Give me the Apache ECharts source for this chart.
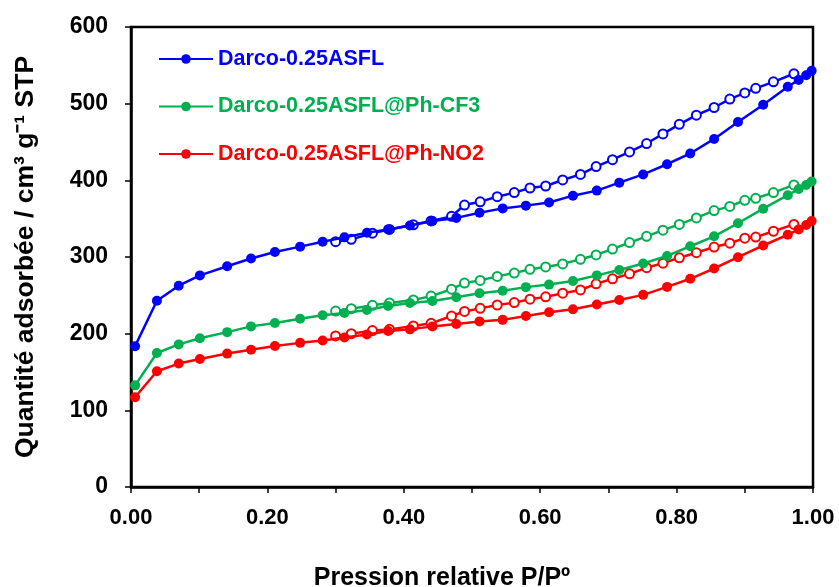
<!DOCTYPE html>
<html>
<head>
<meta charset="utf-8">
<script src="https://cdn.jsdelivr.net/npm/echarts@6/dist/echarts.min.js"></script>
<style>html,body{margin:0;padding:0;background:#fff;}#c{width:839px;height:587px;}</style>
</head>
<body>
<div id="c"></div>
<script>
const seriesNames = ['Darco-0.25ASFL', 'Darco-0.25ASFL@Ph-CF3', 'Darco-0.25ASFL@Ph-NO2'];
const colors = ['#0000ff', '#00b050', '#ff0000'];
const xTicks = [0, 0.2, 0.4, 0.6, 0.8, 1.0];
const yTicks = [0, 100, 200, 300, 400, 500, 600];

const adsX = [0.006, 0.038, 0.07, 0.101, 0.141, 0.176, 0.211, 0.248, 0.281, 0.313, 0.346, 0.377, 0.409, 0.442, 0.477, 0.511, 0.545, 0.579, 0.613, 0.648, 0.683, 0.716, 0.751, 0.786, 0.82, 0.855, 0.89, 0.927, 0.963, 0.979, 0.99, 0.998];
const desX = [0.972, 0.942, 0.916, 0.90, 0.878, 0.855, 0.829, 0.804, 0.78, 0.756, 0.731, 0.706, 0.682, 0.659, 0.633, 0.608, 0.585, 0.562, 0.537, 0.512, 0.489, 0.47, 0.44, 0.414, 0.379, 0.354, 0.323, 0.30];

const blueAds = [183.7, 243, 262.6, 276, 288, 298, 306.5, 313.5, 320, 325.6, 331.7, 336, 341, 347, 351, 357.7, 363.4, 367, 371, 380, 386.6, 397, 407.7, 421, 435, 454, 476, 498.5, 522, 531, 537, 543];
const blueDes = [539, 528.5, 520, 514, 506, 495, 485, 473, 460.5, 448, 437, 427, 418, 407.7, 400.5, 392.6, 390, 384, 378.7, 372, 367.8, 353, 347, 342, 336, 331, 323, 320];
const greenAds = [132.6, 174.8, 186, 194, 202, 209.5, 214, 219.5, 224, 227, 231, 236, 240, 242.6, 247.4, 252.7, 256, 260.7, 264, 268.7, 276, 283, 291.5, 301.4, 314, 327, 344, 363, 380.6, 388.7, 394, 398.5];
const greenDes = [394, 384, 376.6, 374, 366, 360.5, 351, 342.5, 335, 327, 318.8, 310.4, 302.7, 297, 291, 287, 284, 279, 274.7, 269.5, 266, 258, 249, 244, 240, 237, 232.6, 229.5];
const redAds = [117, 151, 161, 167, 174, 179, 184, 188, 191, 195, 199, 203.5, 205.6, 209.5, 212.6, 216, 218, 223, 228, 231.8, 238, 244, 250.6, 261, 271.6, 285, 299.7, 315, 329, 336, 341.7, 347];
const redDes = [342.5, 333.6, 326, 324.6, 318, 313, 305.6, 299, 292, 286, 278, 271.6, 265, 257, 252.8, 248, 245, 240.5, 237.4, 233, 229, 223, 213.5, 210, 205.6, 204, 200, 197];

const adsSets = [blueAds, greenAds, redAds];
const desSets = [blueDes, greenDes, redDes];

function pairs(xs, ys) { return xs.map((x, i) => [x, ys[i]]); }

const series = [];
for (let k = 0; k < 3; k++) {
  series.push({
    name: seriesNames[k], type: 'line', data: pairs(adsX, adsSets[k]),
    symbol: 'circle', symbolSize: 10, showSymbol: true,
    lineStyle: { color: colors[k], width: 2.5 },
    itemStyle: { color: colors[k], borderColor: colors[k], borderWidth: 0 },
    emphasis: { disabled: true }, animation: false, z: 3
  });
  series.push({
    name: seriesNames[k] + ' (d)', type: 'line', data: pairs(desX, desSets[k]),
    symbol: 'circle', symbolSize: 9, showSymbol: true,
    lineStyle: { color: colors[k], width: 2.5 },
    itemStyle: { color: '#fff', borderColor: colors[k], borderWidth: 2 },
    emphasis: { disabled: true }, animation: false, z: 2
  });
}

const font = 'Liberation Sans, Arial, sans-serif';
const chart = echarts.init(document.getElementById('c'), null, { renderer: 'canvas' });
chart.setOption({
  animation: false,
  backgroundColor: '#fff',
  grid: { left: 131, right: 26, top: 27, bottom: 100, show: true, borderColor: '#000', borderWidth: 2.5,
          containLabel: false, outerBoundsMode: 'none' },
  legend: {
    orient: 'vertical', left: 158, top: 48, padding: 0, itemWidth: 54, itemHeight: 12, itemGap: 25.5,
    data: seriesNames.map((n, k) => ({ name: n, textStyle: { color: colors[k] } })),
    textStyle: { fontFamily: font, fontWeight: 'bold', fontSize: 21.5 },
    selectedMode: false
  },
  xAxis: {
    type: 'value', min: 0, max: 1, interval: 0.1,
    name: 'Pression relative P/Pº', nameLocation: 'middle', nameGap: 79,
    nameTextStyle: { fontFamily: font, fontWeight: 'bold', fontSize: 25, color: '#000', padding: [0, 60, 0, 0] },
    axisLine: { show: true, onZero: false, lineStyle: { color: '#000', width: 2.5 } },
    axisTick: { show: true, inside: false, length: 6, lineStyle: { color: '#000', width: 1.5 } },
    axisLabel: {
      fontFamily: font, fontWeight: 'bold', fontSize: 22, color: '#000', margin: 20,
      formatter: v => { const r = Math.round(v * 10) / 10; return xTicks.some(t => Math.abs(t - r) < 1e-6) ? r.toFixed(2) : ''; }
    },
    splitLine: { show: false }
  },
  yAxis: {
    type: 'value', min: 0, max: 600, interval: 100,
    name: 'Quantité adsorbée / cm³ g⁻¹ STP', nameLocation: 'middle', nameGap: 92,
    nameTextStyle: { fontFamily: font, fontWeight: 'bold', fontSize: 26.5, color: '#000' },
    axisLine: { show: true, lineStyle: { color: '#000', width: 2.5 } },
    axisTick: { show: true, inside: false, length: 6, lineStyle: { color: '#000', width: 1.5 } },
    axisLabel: { fontFamily: font, fontWeight: 'bold', fontSize: 23, color: '#000', margin: 23,
      formatter: v => yTicks.includes(v) ? String(v) : '' },
    splitLine: { show: false }
  },
  series: series
});
</script>
</body>
</html>
